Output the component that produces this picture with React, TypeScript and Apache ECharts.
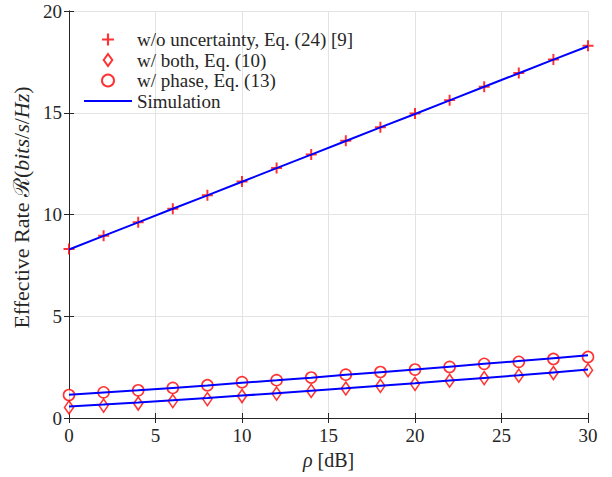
import React, { useEffect, useRef } from "react";
import * as echarts from "echarts";

const rho = [0, 2, 4, 6, 8, 10, 12, 14, 16, 18, 20, 22, 24, 26, 28, 30];
const woUncertainty = [8.30, 8.96, 9.62, 10.28, 10.95, 11.62, 12.29, 12.95, 13.62, 14.29, 14.96, 15.62, 16.28, 16.95, 17.62, 18.29];
const wBoth = [0.52, 0.61, 0.71, 0.83, 0.93, 1.08, 1.20, 1.33, 1.45, 1.58, 1.68, 1.83, 1.96, 2.08, 2.21, 2.35];
const wPhase = [1.13, 1.26, 1.36, 1.48, 1.61, 1.76, 1.86, 1.99, 2.13, 2.26, 2.38, 2.51, 2.66, 2.76, 2.90, 3.00];
const simTop = [8.28, 8.95, 9.61, 10.28, 10.94, 11.61, 12.28, 12.94, 13.61, 14.28, 14.94, 15.61, 16.28, 16.94, 17.61, 18.27];
const simBoth = [0.57, 0.66, 0.76, 0.87, 0.98, 1.10, 1.22, 1.34, 1.46, 1.59, 1.71, 1.84, 1.97, 2.10, 2.24, 2.38];
const simPhase = [1.14, 1.25, 1.36, 1.48, 1.60, 1.73, 1.85, 1.98, 2.12, 2.25, 2.38, 2.52, 2.66, 2.80, 2.94, 3.08];
const legendNames = ["w/o uncertainty, Eq. (24) [9]", "w/ both, Eq. (10)", "w/ phase, Eq. (13)", "Simulation"];

const FONT = "'Liberation Serif', 'DejaVu Serif', serif";
const MATHFONT = "'DejaVu Serif', 'Liberation Serif', serif";
const TXT = "#262626";
const PLUS = "path://M4.1,0H5.9V4.1H10V5.9H5.9V10H4.1V5.9H0V4.1H4.1Z";
const DIAMOND = "path://M5,0L10,7L5,14L0,7Z";
const LINEICON = "path://M0,0H48V2H0Z";

const pairs = (ys: number[]) => rho.map((x, i) => [x, ys[i]]);

export default function App() {
  const ref = useRef<HTMLDivElement>(null);
  useEffect(() => {
    const chart = echarts.init(ref.current!, undefined, { renderer: "svg" });
    const axisLine = { show: true, lineStyle: { color: TXT, width: 1 } };
    const axisTick = { show: true, inside: true, length: 5, lineStyle: { color: TXT } };
    const lineSeries = (ys: number[]) => ({
      name: "Simulation",
      type: "line",
      data: pairs(ys),
      symbol: "none",
      lineStyle: { color: "#0000ff", width: 2 },
      itemStyle: { color: "#0000ff" },
      z: 5,
      clip: false,
    });
    chart.setOption({
      animation: false,
      backgroundColor: "#ffffff",
      textStyle: { fontFamily: FONT, color: TXT },
      grid: { left: 69, right: 24, top: 11, bottom: 59 },
      legend: {
        data: [
          { name: legendNames[0], icon: PLUS },
          { name: legendNames[1], icon: DIAMOND },
          { name: legendNames[2], icon: "circle" },
          { name: legendNames[3], icon: LINEICON },
        ],
        orient: "vertical",
        left: 84,
        top: 30,
        padding: 0,
        itemWidth: 48,
        itemHeight: 12,
        itemGap: 1.5,
        symbolKeepAspect: true,
        textStyle: { fontFamily: FONT, fontSize: 19, color: TXT },
      },
      xAxis: [
        {
          type: "value",
          min: 0,
          max: 30,
          interval: 5,
          name: "{i|ρ} [dB]",
          nameLocation: "middle",
          nameGap: 31,
          nameTextStyle: {
            fontFamily: FONT,
            fontSize: 20,
            color: TXT,
            rich: { i: { fontStyle: "italic", fontFamily: FONT, fontSize: 20, color: TXT } },
          },
          axisLine,
          axisTick,
          axisLabel: { fontFamily: FONT, fontSize: 19, color: TXT, margin: 8 },
          splitLine: { show: true, lineStyle: { color: "#e3e3e3", width: 1 } },
        },
        {
          type: "value",
          position: "top",
          min: 0,
          max: 30,
          interval: 5,
          axisLine,
          axisTick,
          axisLabel: { show: false },
          splitLine: { show: false },
        },
      ],
      yAxis: [
        {
          type: "value",
          min: 0,
          max: 20,
          interval: 5,
          name: "Effective Rate {m|ℛ}({i|bits}/{i|s}/{i|Hz})",
          nameLocation: "middle",
          nameGap: 28,
          nameRotate: 90,
          nameTextStyle: {
            fontFamily: FONT,
            fontSize: 22,
            color: TXT,
            padding: [0, 0, 0, 14],
            rich: {
              i: { fontStyle: "italic", fontFamily: FONT, fontSize: 22, color: TXT },
              m: { fontFamily: MATHFONT, fontSize: 22, color: TXT },
            },
          },
          axisLine,
          axisTick,
          axisLabel: { fontFamily: FONT, fontSize: 19, color: TXT, margin: 7 },
          splitLine: { show: true, lineStyle: { color: "#e3e3e3", width: 1 } },
        },
        {
          type: "value",
          position: "right",
          min: 0,
          max: 20,
          interval: 5,
          axisLine,
          axisTick,
          axisLabel: { show: false },
          splitLine: { show: false },
        },
      ],
      series: [
        {
          name: legendNames[0],
          type: "scatter",
          data: pairs(woUncertainty),
          symbol: PLUS,
          symbolSize: 11,
          itemStyle: { color: "#ff0000" },
          clip: false,
          z: 3,
        },
        {
          name: legendNames[1],
          type: "scatter",
          data: pairs(wBoth),
          symbol: "diamond",
          symbolSize: [9, 13],
          itemStyle: { color: "#ffffff", borderColor: "#ff0000", borderWidth: 1.6 },
          clip: false,
          z: 3,
        },
        {
          name: legendNames[2],
          type: "scatter",
          data: pairs(wPhase),
          symbol: "circle",
          symbolSize: 11,
          itemStyle: { color: "#ffffff", borderColor: "#ff0000", borderWidth: 1.6 },
          clip: false,
          z: 3,
        },
        lineSeries(simTop),
        lineSeries(simBoth),
        lineSeries(simPhase),
      ],
    });
    return () => chart.dispose();
  }, []);
  return (
    <div
      ref={ref}
      style={{ position: "fixed", left: 0, top: 0, width: 612, height: 477, background: "#fff" }}
    />
  );
}
